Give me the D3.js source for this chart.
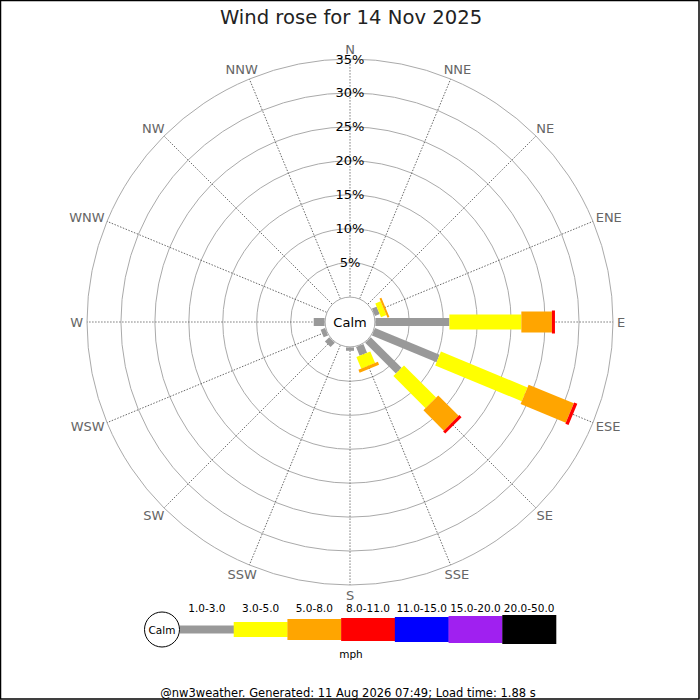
<!DOCTYPE html>
<html><head><meta charset="utf-8">
<script src="https://cdn.jsdelivr.net/npm/d3@7"></script>
<style>body{margin:0;background:#fff}svg{display:block;font-family:"DejaVu Sans",sans-serif}</style>
</head><body>
<svg id="c" width="700" height="700"></svg>
<script>
const directions = ["N","NNE","NE","ENE","E","ESE","SE","SSE","S","SSW","SW","WSW","W","WNW","NW","NNW"];
const speedBins = ["1.0-3.0","3.0-5.0","5.0-8.0","8.0-11.0","11.0-15.0","15.0-20.0","20.0-50.0"];
const binColors = ["#999999","#ffff00","#ffa500","#ff0000","#0000ff","#a020f0","#000000"];
// percentage frequency per direction for each speed bin
const bin1 = [0,0,0,0.75,10.9,10.3,6.4,1.4,0.5,0,0.9,0.7,1.6,0,0,0];
const bin2 = [0,0,0,0.85,10.6,13.8,6.7,1.85,0,0,0,0,0,0,0,0];
const bin3 = [0,0,0,0.3,4.5,7.2,4.25,0.45,0,0,0,0,0,0,0,0];
const bin4 = [0,0,0,0,0.45,0.5,0.45,0,0,0,0,0,0,0,0,0];
const bin5 = [0,0,0,0,0,0,0,0,0,0,0,0,0,0,0,0];
const bin6 = [0,0,0,0,0,0,0,0,0,0,0,0,0,0,0,0];
const bin7 = [0,0,0,0,0,0,0,0,0,0,0,0,0,0,0,0];
const ringTicks = [5,10,15,20,25,30,35];
const titleText = "Wind rose for 14 Nov 2025";
const footerText = "@nw3weather. Generated: 11 Aug 2026 07:49; Load time: 1.88 s";
const unitText = "mph";

const binSeries = [bin1,bin2,bin3,bin4,bin5,bin6,bin7];
const table = directions.map((d,i)=>{const o={dir:d}; speedBins.forEach((b,j)=>o[b]=binSeries[j][i]); return o;});

const svg = d3.select("#c");
const cx = 350, cy = 322;
const r = d3.scaleLinear().domain([0,35]).range([25.4,263]);
const ang = d3.scalePoint().domain(directions).range([0,337.5]);
const color = d3.scaleOrdinal().domain(speedBins).range(binColors);
const barW = d3.scaleOrdinal().domain(speedBins).range([8,15,21,23,25,27,29]);

svg.append("rect").attr("x",0.5).attr("y",0.5).attr("width",698.5).attr("height",698.5)
  .attr("fill","#fff").attr("stroke","#000").attr("stroke-width",1.5);

svg.append("text").attr("x",351).attr("y",24).attr("text-anchor","middle")
  .attr("font-size",19.6).attr("fill","#222").text(titleText);

const g = svg.append("g").attr("transform",`translate(${cx},${cy})`);

// rings
g.selectAll("circle.ring").data(ringTicks).join("circle").attr("class","ring")
  .attr("r",d=>r(d)).attr("fill","none").attr("stroke","#aaa").attr("stroke-width",1);

// spokes
g.selectAll("line.spoke").data(directions).join("line").attr("class","spoke")
  .attr("transform",d=>`rotate(${ang(d)})`)
  .attr("x1",0).attr("x2",0).attr("y1",-r(0)).attr("y2",-r(35))
  .attr("stroke","#555").attr("stroke-width",0.8).attr("stroke-dasharray","1.5,1.5");

// direction labels
const lab = g.selectAll("text.dir").data(directions).join("text").attr("class","dir")
  .attr("font-size",13).attr("fill","#666").attr("text-anchor","middle")
  .attr("dominant-baseline","central").text(d=>d);
lab.each(function(d){
  const t = ang(d)*Math.PI/180, s=Math.sin(t), c=Math.cos(t);
  const w = this.getComputedTextLength(), h = 12, R = r(35)+4;
  d3.select(this).attr("x", R*s + w/2*s).attr("y", -R*c - h/2*c);
});

// bars
const stacked = d3.stack().keys(speedBins)(table);
stacked.forEach(layer=>{
  const key = layer.key;
  g.append("g").selectAll("rect").data(layer.filter(p=>p[1]-p[0]>0)).join("rect")
    .attr("transform",p=>`rotate(${ang(p.data.dir)})`)
    .attr("x",-barW(key)/2).attr("width",barW(key))
    .attr("y",p=>-r(p[1])).attr("height",p=>r(p[1])-r(p[0]))
    .attr("fill",color(key));
});

// calm circle
g.append("circle").attr("r",r(0)-0.5).attr("fill","#fff").attr("stroke","#aaa").attr("stroke-width",1);
g.append("text").attr("text-anchor","middle").attr("dominant-baseline","central")
  .attr("font-size",13).attr("fill","#000").text("Calm");

// ring labels
g.selectAll("text.rl").data(ringTicks).join("text").attr("class","rl")
  .attr("x",0).attr("y",d=>-r(d)).attr("text-anchor","middle").attr("dominant-baseline","central")
  .attr("font-size",13).attr("fill","#000").text(d=>d+"%");

// legend
const lx = d3.scaleBand().domain(speedBins).range([180,556]);
const ly = 629.5;
const leg = svg.append("g");
leg.append("circle").attr("cx",162).attr("cy",ly).attr("r",17.5).attr("fill","#fff").attr("stroke","#000").attr("stroke-width",1);
leg.append("text").attr("x",162).attr("y",ly).attr("text-anchor","middle").attr("dominant-baseline","central")
  .attr("font-size",10.5).text("Calm");
leg.selectAll("rect").data(speedBins).join("rect")
  .attr("x",d=>lx(d)).attr("width",lx.bandwidth()+0.3)
  .attr("y",d=>ly-barW(d)/2).attr("height",d=>barW(d)).attr("fill",d=>color(d));
leg.selectAll("text.bl").data(speedBins).join("text").attr("class","bl")
  .attr("x",d=>lx(d)+lx.bandwidth()/2).attr("y",608).attr("text-anchor","middle")
  .attr("dominant-baseline","central").attr("font-size",10.5).attr("fill","#000").text(d=>d);
leg.append("text").attr("x",351).attr("y",654).attr("text-anchor","middle").attr("dominant-baseline","central")
  .attr("font-size",10.5).text(unitText);

svg.append("text").attr("x",348).attr("y",697).attr("text-anchor","middle")
  .attr("font-size",11.5).attr("fill","#000").text(footerText);
</script>
</body></html>
